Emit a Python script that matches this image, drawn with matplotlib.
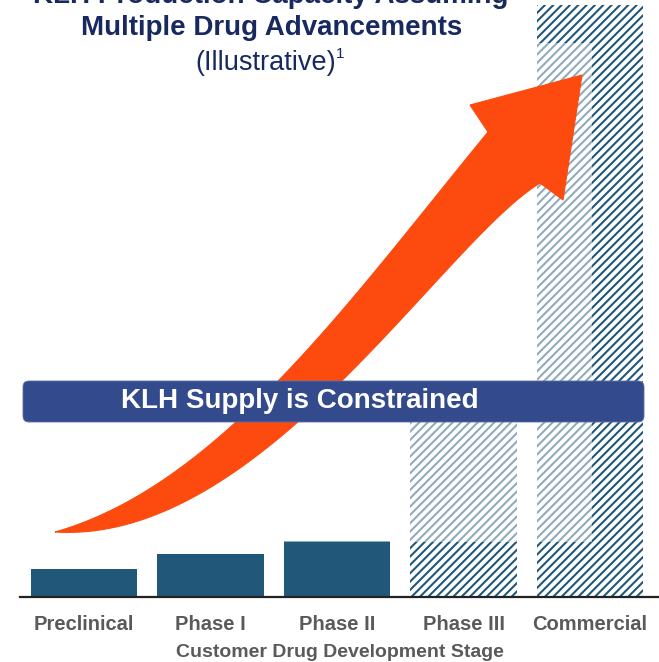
import numpy as np
import matplotlib
matplotlib.use("Agg")
import matplotlib.pyplot as plt
from matplotlib.patches import Rectangle, FancyBboxPatch, PathPatch
from matplotlib.path import Path

# ---- data -------------------------------------------------------------
stages = ["Preclinical", "Phase I", "Phase II", "Phase III", "Commercial"]
capacity = [4.7, 7.3, 9.5, 34, 100]          # illustrative capacity index
hatched = [False, False, False, True, True]
title_lines = ["KLH Production Capacity Assuming", "Multiple Drug Advancements"]
subtitle = "(Illustrative)"
footnote_mark = "1"
banner_text = "KLH Supply is Constrained"
xlabel = "Customer Drug Development Stage"

# ---- style ------------------------------------------------------------
BAR = "#21587a"
NAVY = "#17295f"
GRAY = "#5a5a5a"
BANNER = "#334b8c"
ARROW = "#fd4a0e"
plt.rcParams["font.family"] = ["Liberation Sans", "DejaVu Sans"]
plt.rcParams["hatch.linewidth"] = 1.5

W, H = 659, 662
fig = plt.figure(figsize=(W / 100, H / 100), dpi=100)

# main bar axes
base_px = 597
ax = fig.add_axes([20 / W, (H - base_px) / H, 1 - 20 / W, base_px / H])
x = np.arange(len(stages))
for xi, v, h in zip(x, capacity, hatched):
    if h:
        ax.bar(xi, v, width=0.84, facecolor="white", edgecolor=BAR,
               hatch="////", linewidth=0, zorder=2)
    else:
        ax.bar(xi, v, width=0.84, color=BAR, linewidth=0, zorder=2)
ax.set_xlim(-0.506, 4.545)
ax.set_ylim(0, 100 * 597 / 592)
ax.set_xticks(x)
ax.set_xticklabels(stages, fontsize=14.5, fontweight="bold", color=GRAY)
ax.tick_params(axis="x", length=0, pad=13)
ax.set_yticks([])
for s in ["top", "right", "left"]:
    ax.spines[s].set_visible(False)
ax.spines["bottom"].set_color("#222222")
ax.spines["bottom"].set_linewidth(1.6)
ax.set_xlabel(xlabel, fontsize=14, fontweight="bold", color=GRAY, labelpad=7)

# overlay axes in pixel coordinates for the illustrative graphic
ov = fig.add_axes([0, 0, 1, 1], zorder=5)
ov.set_xlim(0, W)
ov.set_ylim(H, 0)
ov.axis("off")
ov.patch.set_alpha(0)

# translucent backdrop of the arrow graphic
ov.add_patch(Rectangle((20, 43), 572, 499, facecolor="white", alpha=0.5,
                       linewidth=0, zorder=1))

# curved arrow
def bez(p0, p1, p2, p3, n=80):
    t = np.linspace(0, 1, n)[:, None]
    p0, p1, p2, p3 = map(np.array, (p0, p1, p2, p3))
    return ((1 - t) ** 3) * p0 + 3 * ((1 - t) ** 2) * t * p1 + 3 * (1 - t) * t ** 2 * p2 + t ** 3 * p3

tail = (55, 532)
upper = bez(tail, (220, 485), (350, 300), (488, 132))
lower = bez(tail, (260, 545), (440, 245), (540, 183))
head = np.array([(470, 105), (582, 75), (563, 200)])
pts = np.vstack([upper, head, lower[::-1]])
ov.add_patch(PathPatch(Path(pts, closed=False), facecolor=ARROW,
                       edgecolor=ARROW, linewidth=0.8, zorder=2))

# banner
ov.add_patch(FancyBboxPatch((23, 381), 621, 41,
                            boxstyle="round,pad=0,rounding_size=6",
                            facecolor=BANNER, edgecolor="#5a6fa8",
                            linewidth=0.6, zorder=3))
ov.text(300, 401, banner_text, ha="center", va="center", fontsize=20,
        fontweight="bold", color="white", zorder=4)

# titles
ov.text(271, 3, title_lines[0], ha="center", va="baseline", fontsize=20,
        fontweight="bold", color=NAVY, zorder=4)
ov.text(272, 35, title_lines[1], ha="center", va="baseline", fontsize=20,
        fontweight="bold", color=NAVY, zorder=4)
ov.text(266, 70, subtitle, ha="center", va="baseline", fontsize=19.5,
        color=NAVY, zorder=4)
ov.text(336, 58, footnote_mark, ha="left", va="baseline", fontsize=11,
        color=NAVY, zorder=4)

fig.savefig("out.png", dpi=100)
